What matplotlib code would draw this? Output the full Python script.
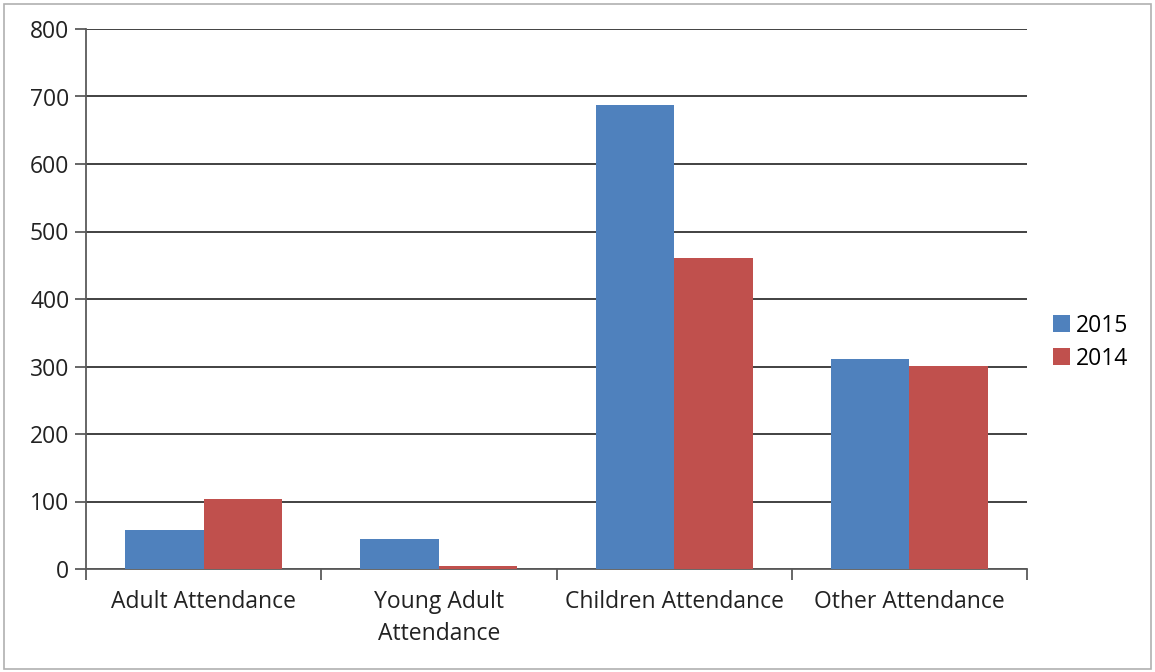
import numpy as np
import matplotlib.pyplot as plt
from matplotlib.patches import Rectangle

# Chart data
categories = ['Adult Attendance', 'Young Adult\nAttendance', 'Children Attendance', 'Other Attendance']
series_names = ['2015', '2014']
values_2015 = [58, 45, 687, 311]
values_2014 = [103, 5, 461, 301]
y_ticks = [0, 100, 200, 300, 400, 500, 600, 700, 800]

colors = ['#4F81BD', '#C0504D']
axis_color = '#5a5a5a'

plt.rcParams['font.family'] = ['Open Sans', 'DejaVu Sans']
fs = 16.5

fig = plt.figure(figsize=(11.55, 6.72), dpi=100)
ax = fig.add_axes([86/1155, 1-569/672, (1027-86)/1155, (569-29)/672])

# Outer frame of the chart
fig.patches.append(Rectangle((4/1155, 3/672), 1147/1155, 665/672, transform=fig.transFigure,
                             fill=False, edgecolor='#b0b0b0', linewidth=1.2))

x = np.arange(len(categories))
width = 1/3
ax.bar(x - width/2, values_2015, width, color=colors[0], label=series_names[0], zorder=3)
ax.bar(x + width/2, values_2014, width, color=colors[1], label=series_names[1], zorder=3)

ax.set_xlim(-0.5, len(categories) - 0.5)
ax.set_ylim(0, 800)
ax.set_yticks(y_ticks)
ax.set_yticklabels([str(v) for v in y_ticks], fontsize=fs, color='#222222')

# Category labels centred, tick marks at group boundaries
ax.set_xticks(x)
ax.set_xticklabels(categories, fontsize=fs, color='#222222', linespacing=1.45)
ax.tick_params(axis='x', which='major', length=0, pad=15)
ax.set_xticks(np.arange(len(categories) + 1) - 0.5, minor=True)
ax.tick_params(axis='x', which='minor', length=8, width=1.3, color=axis_color, direction='out')
ax.tick_params(axis='y', length=8, width=1.3, color=axis_color, direction='out', pad=4)

ax.grid(axis='y', color='#333333', linewidth=1.3, zorder=0)
for side in ['top', 'right']:
    ax.spines[side].set_visible(False)
for side in ['left', 'bottom']:
    ax.spines[side].set_color(axis_color)
    ax.spines[side].set_linewidth(1.3)

ax.legend(loc='center left', bbox_to_anchor=(1.018, 0.42), frameon=False, fontsize=fs,
          handlelength=0.75, handleheight=0.75, handletextpad=0.25, labelspacing=0.4,
          borderaxespad=0)

plt.savefig('out.png', dpi=100)
